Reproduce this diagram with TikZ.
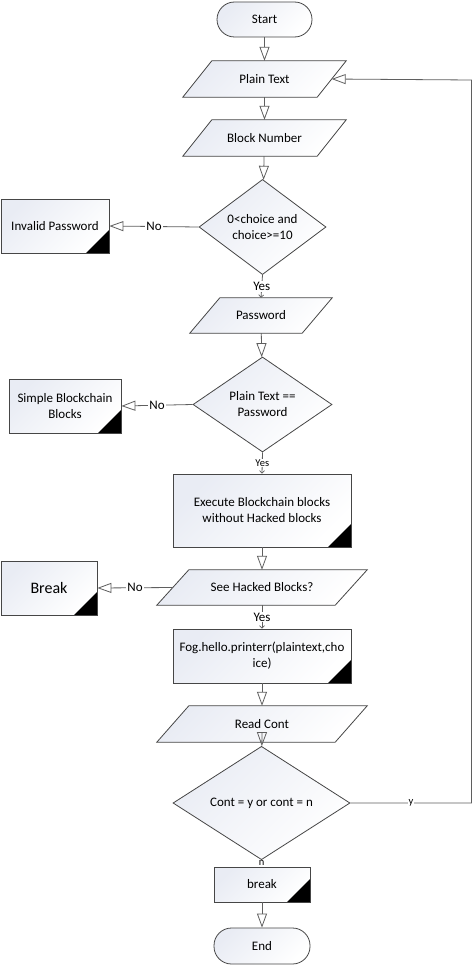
\documentclass[tikz,border=0pt]{standalone}
\usepackage{fontspec}
\setmainfont{Carlito}
\usetikzlibrary{arrows.meta,shapes.geometric,backgrounds}
\definecolor{linec}{RGB}{70,70,70}
\definecolor{connc}{RGB}{95,95,95}
\definecolor{fillc}{RGB}{233,236,244}
\tikzset{
  shapefill/.style={draw=linec, line width=0.8pt, top color=fillc, bottom color=white, shading angle=45},
  txt/.style={font=\fontsize{13}{16}\selectfont, align=center, inner sep=1pt},
  term/.style={shapefill, txt, rectangle, rounded corners=17.5pt, minimum height=35pt},
  procbox/.style={shapefill, txt, rectangle,
    path picture={\fill[black] ([xshift=-23pt]path picture bounding box.south east) -- (path picture bounding box.south east) -- ([yshift=23pt]path picture bounding box.south east) -- cycle;}},
  decision/.style={shapefill, txt, diamond, inner sep=0pt},
  paratext/.style={txt, rectangle},
  conn/.style={draw=connc, line width=0.8pt, -{Triangle[open, length=14pt, width=10pt, line width=0.8pt]}},
  yesconn/.style={draw=connc, line width=0.8pt, -{Straight Barb[length=2.5pt, width=5pt, line width=0.7pt]}},
  lbl/.style={fill=white, inner sep=1pt, font=\fontsize{13}{15}\selectfont},
  slbl/.style={fill=white, inner sep=1pt, font=\fontsize{10.5}{12}\selectfont},
}
\newcommand\paraback[2]{%
  \begin{pgfonlayer}{background}
  \path[shapefill] ([xshift=-#2]#1.south west) -- ([xshift=-#2]#1.south east) -- ([xshift=#2]#1.north east) -- ([xshift=#2]#1.north west) -- cycle;
  \end{pgfonlayer}}
\begin{document}
\begin{tikzpicture}[x=1pt, y=-1pt]
\useasboundingbox (0,0) rectangle (473,966);
\begin{pgfonlayer}{background}
\fill[white] (0,0) rectangle (473,966);
\end{pgfonlayer}

% nodes
\node[term, minimum width=95pt] (start) at (264.5,19.5) {Start};
\node[paratext, minimum width=134pt, minimum height=36pt] (plain) at (264.5,79) {Plain Text};
\node[paratext, minimum width=134pt, minimum height=36pt] (block) at (264.5,138) {Block Number};
\node[decision, minimum width=127pt, minimum height=94pt] (d1) at (262.5,227) {0<choice and\\choice>=10};
\node[procbox, minimum width=108pt, minimum height=54pt] (invalid) at (55,226) {Invalid Password};
\node[paratext, minimum width=112pt, minimum height=35pt] (pass) at (261,315.5) {Password};
\node[decision, minimum width=139pt, minimum height=95pt] (d2) at (262.5,404.5) {Plain Text ==\\Password};
\node[procbox, minimum width=112pt, minimum height=54pt] (simple) at (65,406) {Simple Blockchain\\Blocks};
\node[procbox, minimum width=178pt, minimum height=73pt] (exec) at (262,510.5) {Execute Blockchain blocks\\without Hacked blocks};
\node[paratext, minimum width=178pt, minimum height=35pt] (see) at (262,587.5) {See Hacked Blocks?};
\node[procbox, minimum width=96pt, minimum height=54pt, font=\fontsize{16}{18}\selectfont] (brk) at (49,588) {Break};
\node[procbox, minimum width=178pt, minimum height=54pt] (fog) at (262,656) {Fog.hello.printerr(plaintext,cho\\ice)};
\node[paratext, minimum width=178pt, minimum height=36pt] (read) at (262,724) {Read Cont};
\node[decision, minimum width=177pt, minimum height=74pt] (d3) at (261.5,803) {Cont = y or cont = n};
\node[procbox, minimum width=96pt, minimum height=35pt] (brk2) at (262,884.5) {break};
\node[term, minimum width=96pt, minimum height=36pt] (end) at (262,946) {End};

% parallelogram outlines
\paraback{plain}{14.5pt}
\paraback{block}{14.5pt}
\paraback{pass}{15pt}
\paraback{see}{16pt}
\paraback{read}{16pt}

% connectors
\draw[conn] (start) -- (plain);
\draw[conn] (plain) -- (block);
\draw[conn] (block) -- (d1);
\draw[conn] (d1.west) -- node[lbl]{No} (invalid.east);
\draw[yesconn] (d1.south) -- node[lbl]{Yes} (pass.north);
\draw[conn] (pass) -- (d2);
\draw[conn] (d2.west) -- node[lbl]{No} (simple.east);
\draw[yesconn] (d2.south) -- node[slbl]{Yes} (exec.north);
\draw[conn] (exec) -- (see);
\draw[conn] (see.west) -- node[lbl]{No} (brk.east);
\draw[yesconn] (see.south) -- node[lbl]{Yes} (fog.north);
\draw[conn] (fog) -- (read);
\draw[conn] (read) -- (d3);
\coordinate (c1) at (471.5,803);
\coordinate (c2) at (471.5,80);
\draw[conn] (d3.east) -- node[slbl]{y} (c1) -- (c2) -- (plain.east);
\draw[yesconn] (d3.south) -- node[slbl]{n} (brk2.north);
\draw[conn] (brk2) -- (end);
\end{tikzpicture}
\end{document}
